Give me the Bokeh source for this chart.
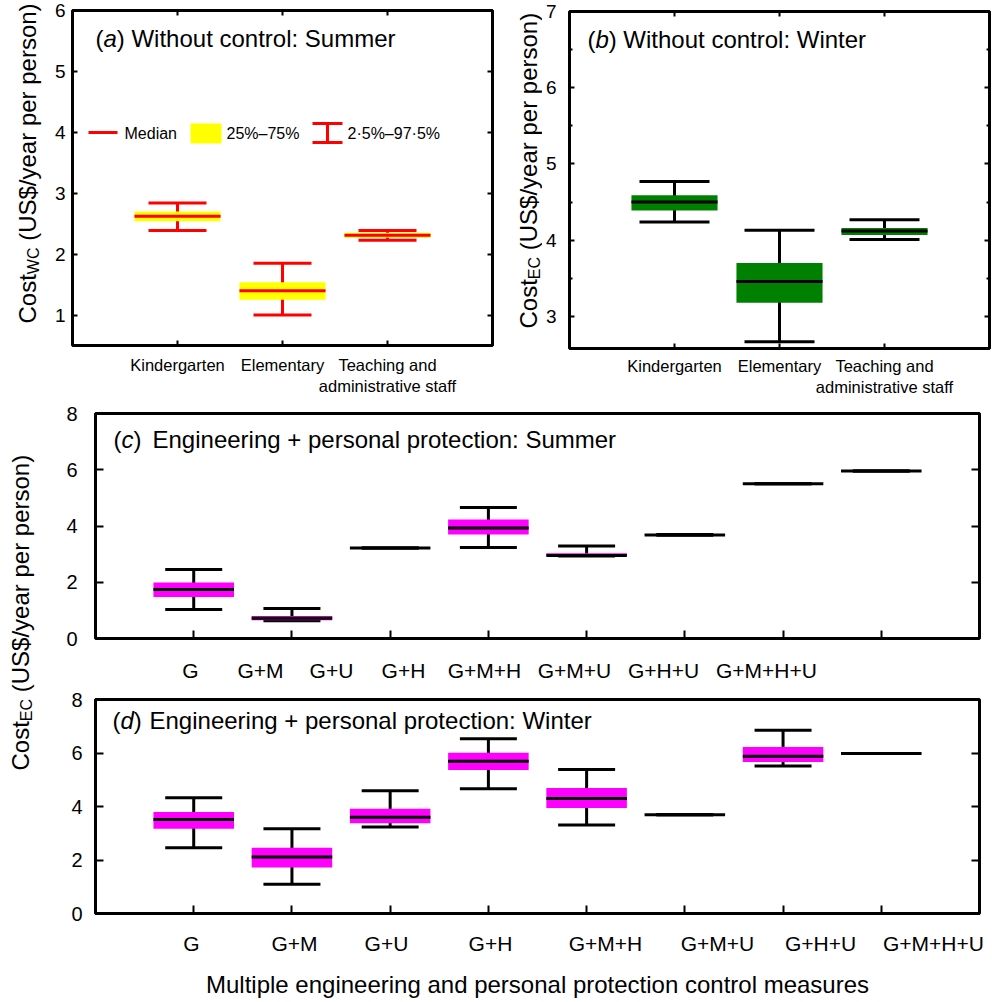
import numpy as np
from bokeh.plotting import figure
from bokeh.models import (ColumnDataSource, Whisker, TeeHead, Label, Arrow, LinearAxis,
                          FixedTicker, Range1d, CustomJSTickFormatter)
from bokeh.layouts import row, column
from bokeh.embed import file_html
from bokeh.resources import INLINE

FONT = "Liberation Sans"

# ---------------- data ----------------
school_groups = ["Kindergarten", "Elementary", "Teaching and\nadministrative staff"]

# (a) without control, summer  (Cost_WC)
a_low = [2.39, 1.00, 2.23]
a_q1 = [2.54, 1.25, 2.27]
a_med = [2.62, 1.40, 2.31]
a_q3 = [2.70, 1.54, 2.35]
a_high = [2.84, 1.85, 2.39]

# (b) without control, winter  (Cost_EC)
b_low = [4.24, 2.67, 4.01]
b_q1 = [4.39, 3.18, 4.07]
b_med = [4.50, 3.46, 4.12]
b_q3 = [4.59, 3.70, 4.16]
b_high = [4.77, 4.13, 4.27]

measures = ["G", "G+M", "G+U", "G+H", "G+M+H", "G+M+U", "G+H+U", "G+M+H+U"]

# (c) engineering + personal protection, summer
c_low = [1.03, 0.63, 3.22, 3.24, 2.93, 3.67, 5.50, 5.96]
c_q1 = [1.48, 0.65, 3.22, 3.70, 2.93, 3.68, 5.50, 5.96]
c_med = [1.74, 0.72, 3.22, 3.93, 2.95, 3.68, 5.50, 5.96]
c_q3 = [1.99, 0.80, 3.22, 4.23, 3.03, 3.69, 5.50, 5.96]
c_high = [2.45, 1.07, 3.22, 4.66, 3.29, 3.70, 5.50, 5.96]

# (d) engineering + personal protection, winter
d_low = [2.46, 1.09, 3.23, 4.66, 3.31, 3.69, 5.51, 5.98]
d_q1 = [3.17, 1.72, 3.37, 5.36, 3.94, 3.69, 5.66, 5.98]
d_med = [3.51, 2.11, 3.60, 5.69, 4.30, 3.69, 5.88, 5.98]
d_q3 = [3.79, 2.46, 3.92, 6.01, 4.69, 3.69, 6.22, 5.98]
d_high = [4.33, 3.17, 4.59, 6.53, 5.38, 3.69, 6.85, 5.98]

# ---------------- layout constants (page pixels) ----------------
BOX_W = 0.82
BASE_CORR = 0.37   # Bokeh's alphabetic baseline sits lower than the font baseline
# where the category names of (c) and (d) are printed (page px, as in the original)
label_px_c = [190, 260, 331, 403, 484, 574, 663, 766]
label_px_d = [191, 294, 386, 490, 605, 717, 820, 933]


def make_fig(width, height, left, right, top, bottom, xr, yr):
    p = figure(width=width, height=height, x_range=Range1d(*xr), y_range=Range1d(*yr),
               output_backend="svg", toolbar_location=None,
               min_border_left=left, min_border_right=right,
               min_border_top=top, min_border_bottom=bottom)
    p.outline_line_color = "black"
    p.outline_line_width = 3
    p.outline_line_alpha = 1
    p.xgrid.visible = False
    p.ygrid.visible = False
    p.background_fill_color = "white"
    p.border_fill_color = "white"
    return p


def style_axis(ax, tick_in, font_size, standoff, labels=True):
    ax.axis_line_color = None
    ax.major_tick_in = tick_in
    ax.major_tick_out = 0
    ax.minor_tick_in = 0
    ax.minor_tick_out = 0
    ax.major_tick_line_color = "black"
    ax.major_tick_line_width = 2
    ax.major_label_text_font = FONT
    ax.major_label_text_color = "black"
    ax.major_label_text_font_size = font_size
    ax.major_label_standoff = standoff
    if not labels:
        ax.formatter = CustomJSTickFormatter(code="return ''")
        ax.major_label_text_font_size = "0px"
        ax.major_label_standoff = 0


def ticks_only_axis(p, ticker, side, tick_in, minor_in=0):
    ax = LinearAxis(ticker=ticker)
    style_axis(ax, tick_in, "0px", 0, labels=False)
    ax.minor_tick_in = minor_in
    ax.minor_tick_line_color = "black"
    ax.minor_tick_line_width = 2
    p.add_layout(ax, side)
    return ax


def draw_boxes(p, low, q1, med, q3, high, fill, wcolor, mcolor, cap):
    x = np.arange(1, len(med) + 1, dtype=float)
    src = ColumnDataSource(dict(x=x, low=low, q1=q1, med=med, q3=q3, high=high,
                                x0=x - BOX_W / 2, x1=x + BOX_W / 2))
    w = Whisker(source=src, base="x", upper="high", lower="low",
                line_color=wcolor, line_width=3,
                upper_head=TeeHead(size=cap, line_color=wcolor, line_width=3),
                lower_head=TeeHead(size=cap, line_color=wcolor, line_width=3))
    p.add_layout(w)
    p.vbar(x="x", width=BOX_W, bottom="q1", top="q3", source=src,
           fill_color=fill, line_color=None)
    p.segment(x0="x0", x1="x1", y0="med", y1="med", source=src,
              line_color=mcolor, line_width=3)


def title(p, fx, fy, base_py, parts, size=24):
    y = fy(base_py - BASE_CORR * size)
    for text, px, style in parts:
        p.add_layout(Label(x=fx(px), y=y, text=text, text_font=FONT,
                           text_font_size=f"{size}px", text_font_style=style,
                           text_baseline="alphabetic", text_color="black"))


def label_column(width, height, x0, y0):
    """A narrow blank figure whose data coordinates are page pixels (y downwards)."""
    f = figure(width=width, height=height, x_range=Range1d(x0, x0 + width),
               y_range=Range1d(y0 + height, y0), output_backend="svg", toolbar_location=None,
               x_axis_location=None, y_axis_location=None,
               min_border_left=0, min_border_right=0, min_border_top=0, min_border_bottom=0)
    f.outline_line_color = None
    f.xgrid.visible = False
    f.ygrid.visible = False
    f.border_fill_color = "white"
    f.background_fill_color = "white"
    return f


def ylabel(f, bx, by_start, sub, sub_w, size=24, sub_size=16):
    """bx: baseline x (page px), by_start: bottom end of the rotated text (page px)."""
    cost_w = 2.056 * size
    sub_len = sub_w * sub_size
    space = 0.278 * size
    f.add_layout(Label(x=bx - BASE_CORR * size, y=by_start, text="Cost", angle=np.pi / 2,
                       text_font=FONT, text_font_size=f"{size}px",
                       text_baseline="alphabetic", text_color="black"))
    f.add_layout(Label(x=bx + 3 - BASE_CORR * sub_size, y=by_start - cost_w, text=sub,
                       angle=np.pi / 2, text_font=FONT, text_font_size=f"{sub_size}px",
                       text_baseline="alphabetic", text_color="black"))
    f.add_layout(Label(x=bx - BASE_CORR * size, y=by_start - cost_w - sub_len - space,
                       text="(US$/year per person)", angle=np.pi / 2,
                       text_font=FONT, text_font_size=f"{size}px",
                       text_baseline="alphabetic", text_color="black"))


# ================= panel (a) =================
laba = label_column(50, 400, 0, 0)
ylabel(laba, 36, 323, "WC", 1.666)

pa = make_fig(454, 400, 22, 12, 10, 55, (0, 4), (0.5, 6))
ax_ = lambda px: (px - 72) / 105.0
ay_ = lambda py: 0.5 + (345 - py) * 5.5 / 335.0
pa.xaxis.ticker = FixedTicker(ticks=[1, 2, 3])
pa.xaxis.major_label_overrides = {1: school_groups[0], 2: school_groups[1], 3: school_groups[2]}
style_axis(pa.xaxis[0], 5, "16.5px", 10)
pa.yaxis.ticker = FixedTicker(ticks=[1, 2, 3, 4, 5, 6])
style_axis(pa.yaxis[0], 5, "19px", 7)
ticks_only_axis(pa, FixedTicker(ticks=[1, 2, 3]), "above", 5)
ticks_only_axis(pa, FixedTicker(ticks=[1, 2, 3, 4, 5, 6]), "right", 5)
draw_boxes(pa, a_low, a_q1, a_med, a_q3, a_high, "#ffff00", "#ff0000", "#ff0000", 58)
title(pa, ax_, ay_, 47, [("(", 95, "normal"), ("a", 103, "italic"),
                         (") Without control: Summer", 116.3, "normal")])

# legend of panel (a)
pa.segment(x0=[ax_(88)], x1=[ax_(117)], y0=[ay_(132)], y1=[ay_(132)], line_color="#ff0000", line_width=3)
pa.add_layout(Label(x=ax_(124), y=ay_(133), text="Median", text_font=FONT, text_font_size="16px",
                    text_baseline="middle", text_color="black"))
pa.quad(left=[ax_(190)], right=[ax_(221)], top=[ay_(123)], bottom=[ay_(143)],
        fill_color="#ffff00", line_color=None)
pa.add_layout(Label(x=ax_(226), y=ay_(133), text="25%–75%", text_font=FONT, text_font_size="16px",
                    text_baseline="middle", text_color="black"))
pa.add_layout(Arrow(x_start=ax_(327), y_start=ay_(142), x_end=ax_(327), y_end=ay_(123),
                    line_color="#ff0000", line_width=3,
                    start=TeeHead(size=30, line_color="#ff0000", line_width=3),
                    end=TeeHead(size=30, line_color="#ff0000", line_width=3)))
pa.add_layout(Label(x=ax_(347), y=ay_(133), text="2·5%–97·5%", text_font=FONT, text_font_size="16px",
                    text_baseline="middle", text_color="black"))

# ================= panel (b) =================
labb = label_column(38, 400, 504, 0)
ylabel(labb, 537, 328, "EC", 1.389)

pb = make_fig(450, 400, 26, 3, 11, 52, (0, 4), (2.58, 7))
bx_ = lambda px: (px - 568) / 105.25
by_ = lambda py: 2.58 + (348 - py) * 4.42 / 337.0
pb.xaxis.ticker = FixedTicker(ticks=[1, 2, 3])
pb.xaxis.major_label_overrides = {1: school_groups[0], 2: school_groups[1], 3: school_groups[2]}
style_axis(pb.xaxis[0], 5, "16.5px", 8)
pb.yaxis.ticker = FixedTicker(ticks=[3, 4, 5, 6, 7], minor_ticks=[3.5, 4.5, 5.5, 6.5])
style_axis(pb.yaxis[0], 5, "19px", 13)
pb.yaxis.minor_tick_in = 3
pb.yaxis.minor_tick_line_color = "black"
pb.yaxis.minor_tick_line_width = 2
ticks_only_axis(pb, FixedTicker(ticks=[1, 2, 3]), "above", 5)
ticks_only_axis(pb, FixedTicker(ticks=[3, 4, 5, 6, 7], minor_ticks=[3.5, 4.5, 5.5, 6.5]), "right", 5, 3)
draw_boxes(pb, b_low, b_q1, b_med, b_q3, b_high, "#008000", "black", "black", 70)
title(pb, bx_, by_, 48, [("(", 586, "normal"), ("b", 594, "italic"),
                         (") Without control: Winter", 607.3, "normal")])

# ================= shared label column for (c)/(d) =================
plab = label_column(56, 600, 0, 400)
ylabel(plab, 29, 770, "EC", 1.389)


def measure_panel(height, top, bottom, low, q1, med, q3, high, label_px, ystandoff, xstandoff,
                  base_py, parts, frame_top_px, frame_h, xlabel=None):
    p = make_fig(936, height, 39, 13, top, bottom, (0, 9), (0, 8))
    fx = lambda px: (px - 95) * 9 / 884.0
    fy = lambda py: (frame_top_px + frame_h - py) * 8 / frame_h
    p.xaxis.ticker = FixedTicker(ticks=list(range(1, 9)))
    style_axis(p.xaxis[0], 8, "0px", 0, labels=False)
    p.yaxis.ticker = FixedTicker(ticks=[0, 2, 4, 6, 8])
    style_axis(p.yaxis[0], 8, "20px", ystandoff)
    ticks_only_axis(p, FixedTicker(ticks=[0, 2, 4, 6, 8]), "right", 8)
    pos = [fx(v) for v in label_px]
    lab_ax = LinearAxis(ticker=FixedTicker(ticks=pos),
                        major_label_overrides={v: m for v, m in zip(pos, measures)})
    style_axis(lab_ax, 0, "21px", xstandoff)
    if xlabel:
        lab_ax.axis_label = xlabel
        lab_ax.axis_label_text_font = FONT
        lab_ax.axis_label_text_font_size = "24px"
        lab_ax.axis_label_text_font_style = "normal"
        lab_ax.axis_label_text_color = "black"
        lab_ax.axis_label_standoff = 13
    p.add_layout(lab_ax, "below")
    draw_boxes(p, low, q1, med, q3, high, "#ff00ff", "black", "black", 57)
    title(p, fx, fy, base_py, parts)
    return p


pc = measure_panel(286, 13, 48, c_low, c_q1, c_med, c_q3, c_high, label_px_c, 18, 20,
                   448, [("(", 113, "normal"), ("c", 121, "italic"), (")", 133, "normal"),
                         ("Engineering + personal protection: Summer", 152, "normal")], 413, 225)
pd_ = measure_panel(314, 13, 86, d_low, d_q1, d_med, d_q3, d_high, label_px_d, 13, 18,
                    729, [("(", 112, "normal"), ("d", 120, "italic"), (")", 133.3, "normal"),
                          ("Engineering + personal protection: Winter", 149, "normal")], 699, 215,
                    xlabel="Multiple engineering and personal protection control measures")

layout = column(row(column(laba), column(pa), column(labb), column(pb)),
                row(plab, column(pc, pd_)))

open("out.html", "w").write(file_html(layout, INLINE))
